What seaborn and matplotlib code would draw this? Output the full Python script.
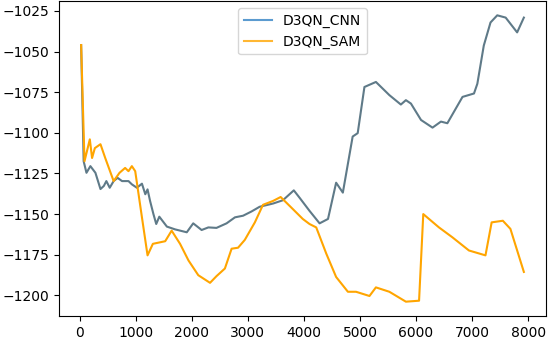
import matplotlib
matplotlib.use("Agg")
import matplotlib.pyplot as plt
import seaborn as sns
import pandas as pd

cnn_x = [25, 70, 120, 190, 280, 370, 430, 475, 535, 605, 675, 755, 870, 930, 1020, 1110, 1170,
         1210, 1255, 1315, 1365, 1420, 1555, 1700, 1910, 2025, 2175, 2295, 2440, 2620, 2770,
         2915, 3065, 3210, 3450, 3625, 3820, 3924, 4100, 4280, 4430, 4575, 4695, 4870, 4960,
         5080, 5285, 5525, 5730, 5820, 5910, 6090, 6295, 6445, 6560, 6830, 7035, 7095, 7210,
         7330, 7450, 7600, 7805, 7925]
cnn_y = [-1046, -1117.5, -1124.6, -1120.5, -1124.6, -1134.6, -1132.7, -1129.7, -1133.8, -1129.7,
         -1127.7, -1129.7, -1129.7, -1131.7, -1133.8, -1131.3, -1137.8, -1134.8, -1141.9, -1150,
         -1156.1, -1151.6, -1157.7, -1159.4, -1161.2, -1155.7, -1159.8, -1158.2, -1158.5, -1155.7,
         -1152, -1151, -1148.4, -1145.5, -1143.5, -1141.5, -1135.4, -1140, -1148, -1155.7, -1153,
         -1130.7, -1136.8, -1102.3, -1100.2, -1071.8, -1068.7, -1076.8, -1082.6, -1079.9, -1082,
         -1092.1, -1096.8, -1093.1, -1094.1, -1077.9, -1075.8, -1069.8, -1046.3, -1032.1, -1027.7,
         -1029.1, -1038.2, -1029.1]

sam_x = [25, 85, 180, 220, 270, 370, 455, 605, 710, 810, 870, 930, 990, 1110, 1210, 1305, 1525,
         1640, 1790, 1940, 2115, 2325, 2440, 2590, 2710, 2825, 2945, 3125, 3270, 3450, 3585, 3805,
         3980, 4100, 4220, 4400, 4575, 4785, 4930, 5170, 5285, 5525, 5820, 6055, 6130, 6410, 6650,
         6945, 7240, 7350, 7550, 7685, 7925]
sam_y = [-1046, -1117.5, -1104, -1115.5, -1109.4, -1107, -1115.5, -1129.7, -1124.6, -1121.6,
         -1123.6, -1120.5, -1123.6, -1152, -1175.4, -1168.3, -1166.7, -1160.2, -1168.3, -1178.5,
         -1187.6, -1192.3, -1188.2, -1183.5, -1171.3, -1170.7, -1165.9, -1155.1, -1144.3, -1141.9,
         -1139.5, -1147, -1153, -1156.1, -1158.2, -1174.4, -1188.7, -1197.8, -1197.8, -1200.4,
         -1195.1, -1197.8, -1203.9, -1203.3, -1150, -1158.2, -1164.3, -1172.4, -1175.4, -1155.1,
         -1154.1, -1159.1, -1185.6]

series_names = ["D3QN_CNN", "D3QN_SAM"]

df = pd.concat([
    pd.DataFrame({"step": cnn_x, "reward": cnn_y, "model": series_names[0]}),
    pd.DataFrame({"step": sam_x, "reward": sam_y, "model": series_names[1]}),
], ignore_index=True)

fig = plt.figure(figsize=(5.48, 3.38), dpi=100)
ax = fig.add_axes([59 / 548, 1 - 316 / 338, (546 - 59) / 548, (316 - 1) / 338])

sns.lineplot(data=df, x="step", y="reward", hue="model",
             palette={"D3QN_CNN": "#5f7a88", "D3QN_SAM": "#ffa500"},
             linewidth=1.5, ax=ax, sort=False, estimator=None)

ax.set_xlabel("")
ax.set_ylabel("")
ax.set_xticks([0, 1000, 2000, 3000, 4000, 5000, 6000, 7000, 8000])
ax.set_yticks([-1200, -1175, -1150, -1125, -1100, -1075, -1050, -1025])
ax.tick_params(labelsize=10)
leg = ax.legend(loc="upper center", fontsize=10)
leg.get_lines()[0].set_color("#5b9bd0")
leg.get_lines()[1].set_color("#ffb733")

fig.savefig("out.png", dpi=100)
